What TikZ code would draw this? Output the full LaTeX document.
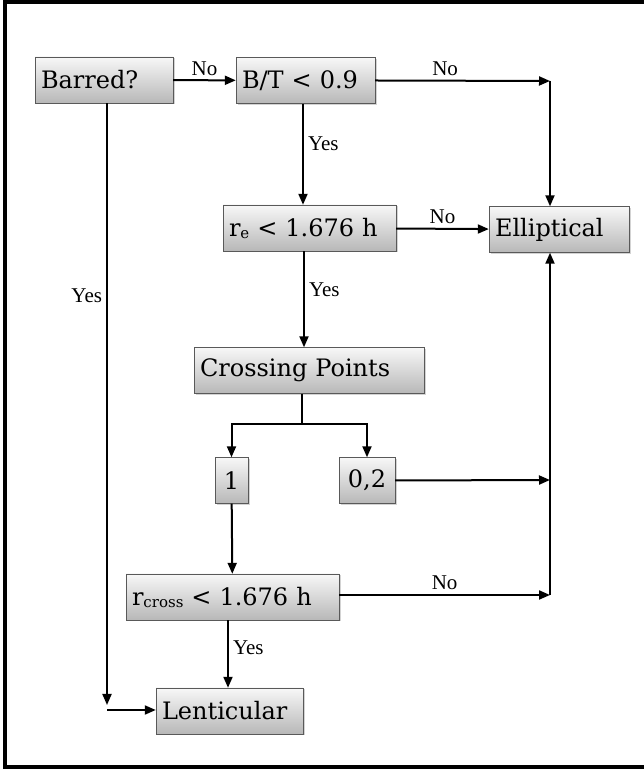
\documentclass[tikz,border=0pt]{standalone}
\usepackage{fontspec}
\setmainfont{DejaVu Serif}
\newfontfamily\lblfont{Liberation Serif}
\usetikzlibrary{arrows.meta,shadows}

\newcommand{\sub}[1]{\raisebox{-2pt}{\fontsize{15}{15}\selectfont #1}}

\begin{document}
\begin{tikzpicture}[
    x=1pt, y=1pt,
    box/.style={rectangle, draw=black!65, top color=black!3, bottom color=black!28,
        drop shadow={opacity=0.35, shadow xshift=1.5pt, shadow yshift=-1.5pt},
        minimum height=46pt, inner sep=6pt, align=left,
        font=\fontsize{24}{28}\selectfont},
    arrow/.style={-{Triangle[length=11pt,width=9pt]}, line width=2pt},
    lbl/.style={font=\lblfont\fontsize{21}{24}\selectfont, inner sep=4pt}
]
    \useasboundingbox (0,0) rectangle (644,771);
    % Frame
    \draw[line width=4pt] (5,4) rectangle (660,769);

    % Decision boxes
    \node[box, text width=126pt] (barred) at (104,691) {Barred?};
    \node[box, text width=127pt] (bt) at (305.5,690.5) {B/T < 0.9};
    \node[box, text width=161pt] (re) at (309.5,543) {r\sub{e} < 1.676 h};
    \node[box, text width=218pt] (cross) at (309,400.5) {Crossing Points};
    \node[box, minimum width=33pt, inner sep=2pt, align=center] (one) at (231.5,290.5) {1};
    \node[box, minimum width=56pt, inner sep=2pt, align=center] (zerotwo) at (367,290.5) {0,2};
    \node[box, text width=201pt] (rcross) at (232.5,174) {r\sub{cross} < 1.676 h};

    % Classes
    \node[box, text width=128pt] (ellip) at (559,541.5) {Elliptical};
    \node[box, text width=135pt] (lent) at (229.5,60) {Lenticular};

    % Corners
    \coordinate (c1) at (550,690);
    \coordinate (c2) at (550,291);
    \coordinate (c3) at (550,176);
    \coordinate (c4) at (107,61);
    \coordinate (split) at (302,347);

    % Arrows
    \draw[arrow] (barred) -- node[above, lbl] {No} (bt);
    \draw[arrow] (bt.east) -- node[pos=0.4, above, lbl] {No} (c1);
    \draw[arrow] (c1) -- (ellip.north -| c1);
    \draw[arrow] (bt.south -| 303,0) -- node[right, lbl, pos=0.4] {Yes} (re.north -| 303,0);
    \draw[arrow] (re) -- node[above, lbl] {No} (ellip);
    \draw[arrow] (re.south -| 304,0) -- node[right, lbl, pos=0.4] {Yes} (cross.north -| 304,0);
    \draw[line width=2pt] (cross.south -| split) -- (split);
    \draw[arrow] (split) -| (one.north);
    \draw[arrow] (split) -| (zerotwo.north);
    \draw[arrow] (zerotwo.east) -- (c2);
    \draw[arrow] (one) -- (rcross);
    \draw[arrow] (rcross.east |- c3) -- node[above, lbl] {No} (c3);
    \draw[arrow] (c3) -- (ellip.south -| c3);
    \draw[arrow] (rcross.south -| 228,0) -- node[right, lbl, pos=0.4] {Yes} (lent.north -| 228,0);
    \draw[arrow] (barred.south -| c4) -- node[left, lbl, pos=0.32] {Yes} ([yshift=5pt]c4);
    \draw[arrow] (c4) -- (lent.west |- c4);
\end{tikzpicture}
\end{document}
